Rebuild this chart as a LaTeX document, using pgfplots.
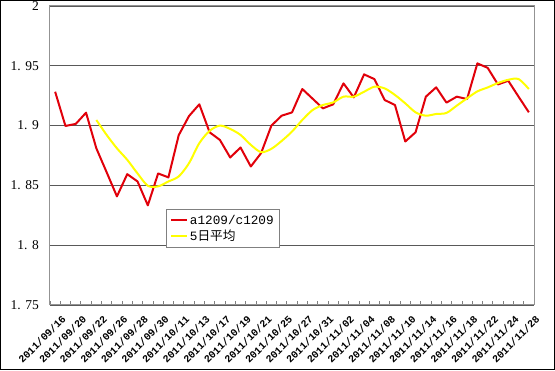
\documentclass[border=0pt]{standalone}
\usepackage{fontspec}
\setmainfont{Liberation Serif}
\newfontfamily\mono{Liberation Mono}
\newfontfamily\cjk{Noto Sans CJK SC}
\usepackage{pgfplots}
\pgfplotsset{compat=1.18}
\definecolor{redline}{RGB}{225,0,10}
\definecolor{yelline}{RGB}{255,255,0}
\begin{document}
\begin{tikzpicture}
\useasboundingbox (0,0) rectangle (555pt,370pt);
\begin{axis}[
  at={(50pt,65pt)}, anchor=south west,
  width=484pt, height=299pt, scale only axis,
  xmin=-0.5, xmax=46.5, ymin=1.75, ymax=2,
  xtick={0,2,...,46},
  xticklabels={2011/09/16,2011/09/20,2011/09/22,2011/09/26,2011/09/28,2011/09/30,2011/10/11,2011/10/13,2011/10/17,2011/10/19,2011/10/21,2011/10/25,2011/10/27,2011/10/31,2011/11/02,2011/11/04,2011/11/08,2011/11/10,2011/11/14,2011/11/16,2011/11/18,2011/11/22,2011/11/24,2011/11/28},
  minor xtick={-0.5,0.5,...,46.5},
  xtick pos=bottom, tick align=inside,
  major x tick style={draw=none},
  minor tick length=4pt,
  minor x tick style={gray, line width=0.8pt},
  xticklabel style={rotate=45, anchor=east, inner sep=0pt, xshift=-2.5pt, yshift=-15pt, font=\mono\bfseries\fontsize{10.3}{11}\selectfont},
  ytick={1.75,1.8,1.85,1.9,1.95,2},
  yticklabels={1. 75,1. 8,1. 85,1. 9,1. 95,2},
  ytick pos=left, major y tick style={draw=none},
  yticklabel style={anchor=east, inner sep=0pt, xshift=-11pt, font=\fontsize{13.5}{14}\selectfont},
  ymajorgrids, major grid style={black!65, line width=0.8pt},
  axis line style={gray!85, line width=1pt},
  legend style={at={(0.2397,0.321)}, anchor=north west, draw=gray, line width=0.8pt,
    font=\mono\fontsize{12.7}{13}\selectfont, inner xsep=4pt, inner ysep=4pt, row sep=1pt,
    nodes={inner sep=1.5pt}},
  legend cell align=left,
  legend image code/.code={\draw[#1, line width=2pt] (0pt,0pt) -- (16pt,0pt);},
]
\addplot[redline, line width=2pt, line join=round] coordinates {
(0,1.9283)(1,1.8997)(2,1.9014)(3,1.9108)(4,1.8810)(5,1.8610)(6,1.8408)(7,1.8594)
(8,1.8533)(9,1.8333)(10,1.8600)(11,1.8567)(12,1.8920)(13,1.9080)(14,1.9178)(15,1.8944)
(16,1.8880)(17,1.8733)(18,1.8817)(19,1.8658)(20,1.8770)(21,1.9000)(22,1.9083)(23,1.9110)
(24,1.9306)(25,1.9225)(26,1.9144)(27,1.9178)(28,1.9353)(29,1.9236)(30,1.9428)(31,1.9389)
(32,1.9214)(33,1.9172)(34,1.8867)(35,1.8944)(36,1.9242)(37,1.9320)(38,1.9192)(39,1.9242)
(40,1.9222)(41,1.9520)(42,1.9483)(43,1.9344)(44,1.9375)(45,1.9242)(46,1.9111)
};
\addlegendentry{a1209/c1209}
\addplot[yelline, line width=2pt, smooth, tension=0.5] coordinates {
(4,1.9047)(5,1.8922)(6,1.8810)(7,1.8714)(8,1.8600)(9,1.8497)(10,1.8492)(11,1.8533)
(12,1.8575)(13,1.8686)(14,1.8853)(15,1.8956)(16,1.9000)(17,1.8972)(18,1.8922)(19,1.8839)
(20,1.8778)(21,1.8806)(22,1.8872)(23,1.8950)(24,1.9047)(25,1.9130)(26,1.9172)(27,1.9194)
(28,1.9242)(29,1.9242)(30,1.9283)(31,1.9325)(32,1.9311)(33,1.9256)(34,1.9186)(35,1.9111)
(36,1.9083)(37,1.9097)(38,1.9106)(39,1.9167)(40,1.9228)(41,1.9286)(42,1.9319)(43,1.9356)
(44,1.9383)(45,1.9389)(46,1.9306)
};
\addlegendentry{5{\cjk 日平均}}
\end{axis}
\draw[black, line width=1pt] (0.5pt,0.5pt) rectangle (554.5pt,369.5pt);
\end{tikzpicture}
\end{document}
